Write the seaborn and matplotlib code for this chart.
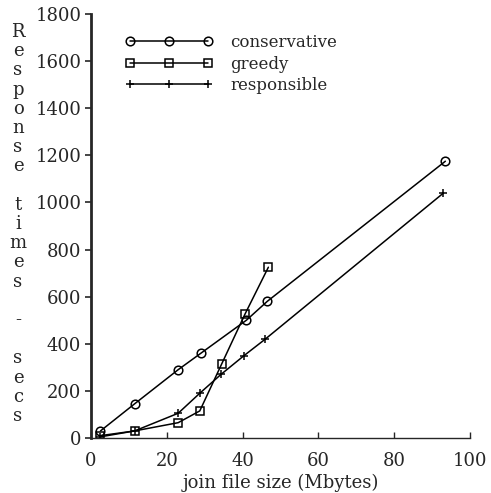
import matplotlib
matplotlib.use("Agg")
import matplotlib.pyplot as plt
import seaborn as sns
import pandas as pd

sns.set_style("ticks")
plt.rcParams['font.family'] = ['DejaVu Serif']

cons_x = [2.5, 11.5, 23, 29, 41, 46.5, 93.5]
cons_y = [30, 145, 290, 360, 500, 580, 1175]
greedy_x = [2.5, 11.5, 23, 28.7, 34.5, 40.6, 46.8]
greedy_y = [10, 30, 65, 115, 315, 525, 725]
resp_x = [2.5, 11.5, 23, 28.7, 34.3, 40.4, 46, 93]
resp_y = [5, 30, 105, 190, 270, 350, 420, 1040]

xticks = [0, 20, 40, 60, 80, 100]
yticks = [0, 200, 400, 600, 800, 1000, 1200, 1400, 1600, 1800]

fig = plt.figure(figsize=(4.91, 4.93), dpi=100)
ax = fig.add_axes([91/491, 1-438/493, (470-91)/491, (438-14)/493])

for xs, ys, lab, mk, ms in [(cons_x, cons_y, "conservative", "o", 6.2),
                            (greedy_x, greedy_y, "greedy", "s", 5.8),
                            (resp_x, resp_y, "responsible", "+", 6)]:
    df = pd.DataFrame({"x": xs, "y": ys})
    sns.lineplot(data=df, x="x", y="y", ax=ax, color="black", lw=1.1,
                 marker=mk, markersize=ms, markerfacecolor="none",
                 markeredgecolor="black", markeredgewidth=1.1,
                 sort=False, label=lab)

ax.set_xlim(0, 100)
ax.set_ylim(0, 1800)
ax.set_xticks(xticks)
ax.set_yticks(yticks)
ax.tick_params(axis="y", direction="out", length=4, width=1.2, labelsize=13, pad=3)
ax.tick_params(axis="x", direction="in", length=4, width=1, labelsize=13, pad=10)
for s in ["top", "right"]:
    ax.spines[s].set_visible(False)
ax.spines["left"].set_linewidth(2)
ax.spines["bottom"].set_linewidth(1)
ax.set_xlabel("join file size (Mbytes)", fontsize=13, labelpad=3)
ax.set_ylabel("")

ax.legend(loc="upper left", bbox_to_anchor=(125/491, 1-34/493),
          bbox_transform=fig.transFigure, frameon=False, numpoints=3,
          handlelength=5.3, handletextpad=1.0, borderpad=0, borderaxespad=0,
          labelspacing=0.28, fontsize=12)

letters = []
for w in ["Response", "times", "-", "secs"]:
    letters.extend(list(w))
    letters.append("")
letters = letters[:-1]
fig.text(18/491, 1-224/493, "\n".join(letters), fontsize=13, ha="center",
         va="center", linespacing=1.085)

fig.savefig("out.png", dpi=100)
